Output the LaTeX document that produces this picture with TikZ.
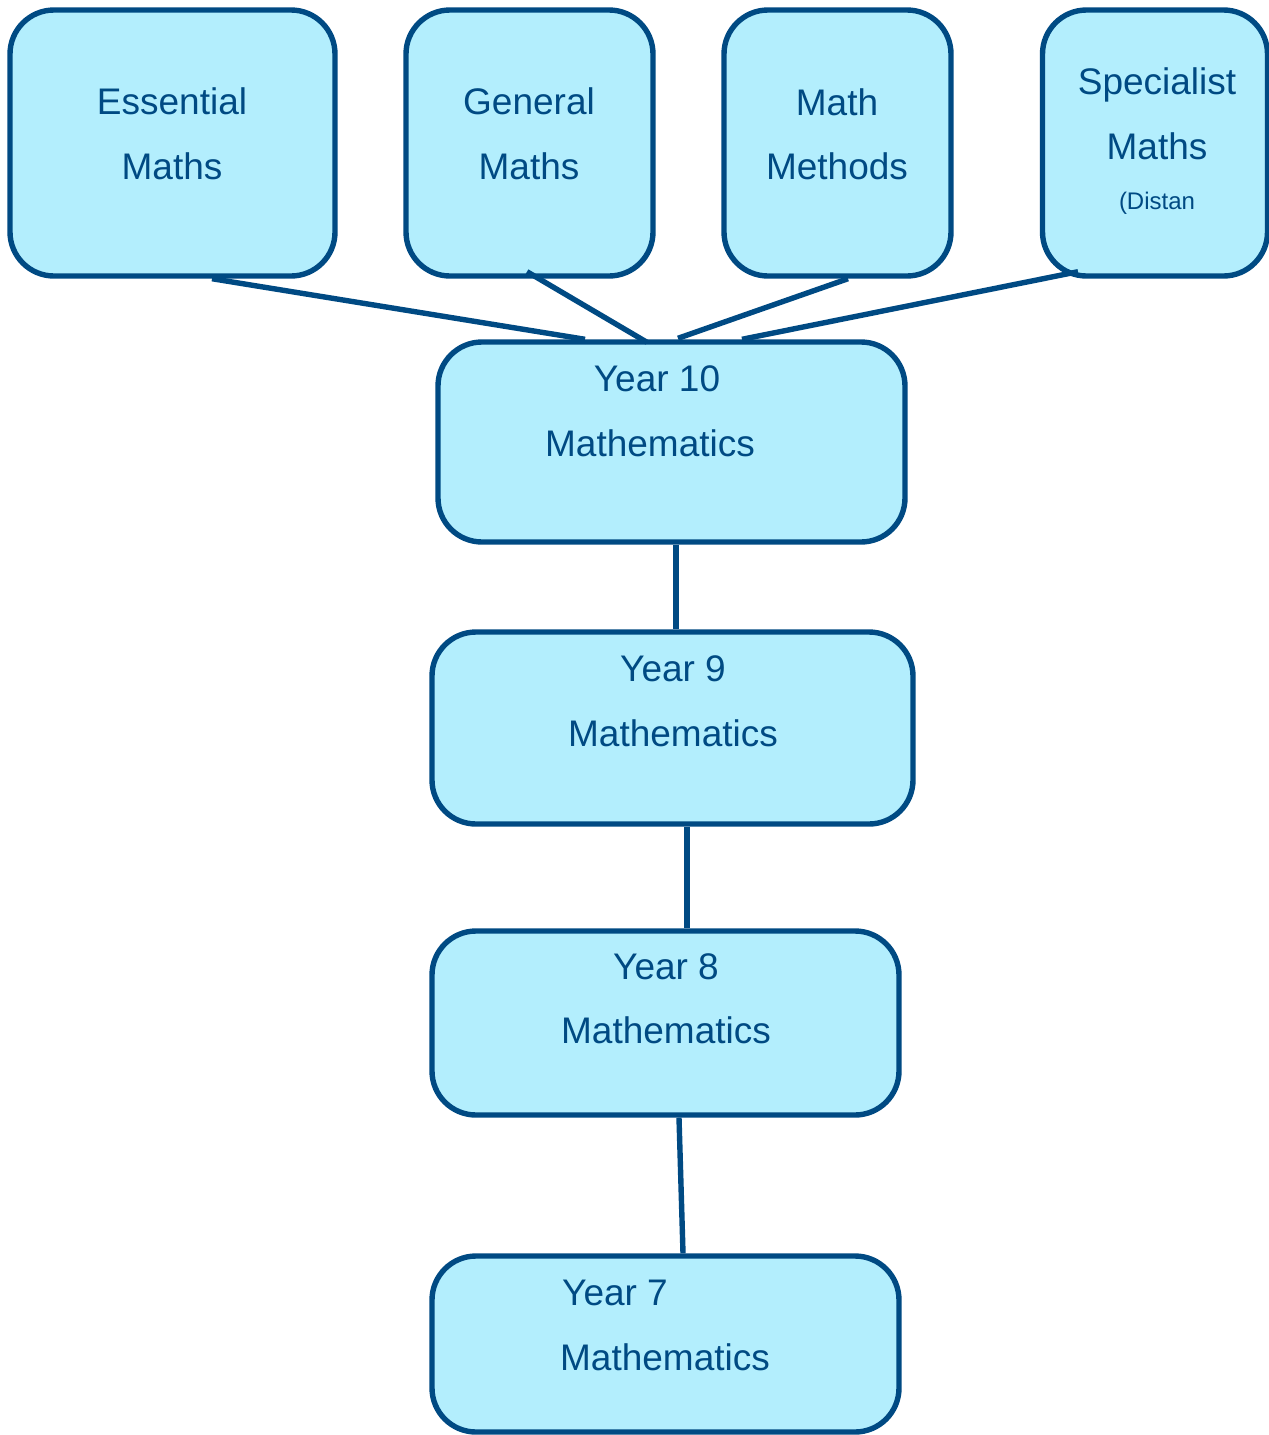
\documentclass[tikz,border=0pt]{standalone}
\usepackage{fontspec}
\setmainfont{Liberation Sans}
\definecolor{boxfill}{HTML}{B3EEFD}
\definecolor{boxline}{HTML}{004A83}
\begin{document}
\begin{tikzpicture}[x=0.5pt,y=-0.5pt,
  box/.style={draw=boxline,fill=boxfill,line width=2.7pt,rounded corners=22pt,inner sep=0pt},
  lbl/.style={text=boxline,anchor=base,inner sep=0pt,font=\fontsize{18.5}{22}\selectfont},
  small/.style={text=boxline,anchor=base,inner sep=0pt,font=\fontsize{12}{14}\selectfont},
  conn/.style={draw=boxline,line width=2.7pt}]
\useasboundingbox (0,0) rectangle (1269,1435);
% boxes
\node[box,minimum width=162.5pt,minimum height=133pt] (ess) at (172.5,143) {};
\node[box,minimum width=123.5pt,minimum height=133pt] (gen) at (529.5,143) {};
\node[box,minimum width=113.5pt,minimum height=133pt] (meth) at (837.5,143) {};
\node[box,minimum width=112.5pt,minimum height=133pt] (spec) at (1155,143) {};
\node[box,minimum width=233.5pt,minimum height=100pt] (y10) at (671.5,442) {};
\node[box,minimum width=240.5pt,minimum height=96pt] (y9) at (672.5,728) {};
\node[box,minimum width=233.5pt,minimum height=92pt] (y8) at (665.5,1023) {};
\node[box,minimum width=233.5pt,minimum height=88pt] (y7) at (665.5,1344) {};
% texts
\node[lbl] (essa) at (172,114) {Essential};
\node[lbl] (essb) at (172,179) {Maths};
\node[lbl] (gena) at (529,114) {General};
\node[lbl] (genb) at (529,179) {Maths};
\node[lbl] (metha) at (837,115) {Math};
\node[lbl] (methb) at (837,179) {Methods};
\node[lbl] (speca) at (1157,94) {Specialist};
\node[lbl] (specb) at (1157,159) {Maths};
\node[small] (specc) at (1157,209) {(Distan};
\node[lbl] (y10a) at (657,391) {Year 10};
\node[lbl] (y10b) at (650,456) {Mathematics};
\node[lbl] (y9a) at (673,681) {Year 9};
\node[lbl] (y9b) at (673,746) {Mathematics};
\node[lbl] (y8a) at (666,979) {Year 8};
\node[lbl] (y8b) at (666,1043) {Mathematics};
\node[lbl] (y7a) at (615,1305) {Year 7};
\node[lbl] (y7b) at (665,1370) {Mathematics};
% connectors
\draw[conn] ([xshift=19.75pt]ess.south) -- ([xshift=-43.25pt]y10.north);
\draw[conn] ([xshift=-1.25pt,yshift=3.5pt]gen.south) -- ([xshift=-12.25pt,yshift=-1.5pt]y10.north);
\draw[conn] ([xshift=5.25pt]meth.south) -- ([xshift=3.25pt,yshift=0.5pt]y10.north);
\draw[conn] ([xshift=-38.5pt,yshift=3.5pt]spec.south) -- ([xshift=35.25pt]y10.north);
\draw[conn] ([xshift=2.25pt]y10.south) -- ([xshift=1.75pt]y9.north);
\draw[conn] ([xshift=7.25pt]y9.south) -- ([xshift=10.75pt]y8.north);
\draw[conn] ([xshift=6.75pt]y8.south) -- ([xshift=8.75pt]y7.north);
\end{tikzpicture}
\end{document}
